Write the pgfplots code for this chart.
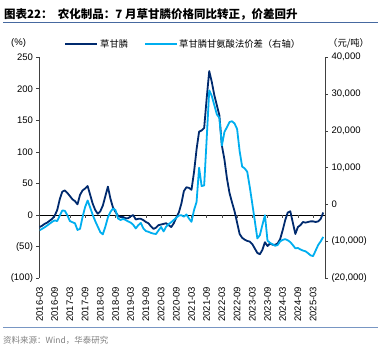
\documentclass[border=0pt]{standalone}
\usepackage{pgfplots}
\pgfplotsset{compat=1.18}
\usepackage{pgfplotstable}
\usepackage{fontspec}
\setmainfont{Liberation Sans}
\newfontfamily\cjk{Noto Sans CJK SC}
\definecolor{darkblue}{RGB}{0,42,110}
\definecolor{lightblue}{RGB}{0,174,239}
\definecolor{rulecol}{RGB}{70,105,160}
\definecolor{rulecol2}{RGB}{120,150,195}

\pgfplotstableread{
x y
0 -19
1 -17
2 -14
3 -12
4 -9
5 -6
6 -1
7 8
8 25
9 37
10 39
11 35
12 30
13 25
14 22
15 17
16 32
17 39
18 42
19 46
20 32
21 18
22 8
23 2
24 6
25 15
26 30
27 45
28 26
29 12
30 5
31 -1
32 -3
33 -3
34 -5
35 -5
36 -2
37 0
38 -7
39 -6
40 -6
41 -8
42 -11
43 -13
44 -18
45 -22
46 -20
47 -16
48 -15
49 -14
50 -13
51 -16
52 -19
53 -13
54 -4
55 4
56 18
57 38
58 44
59 43
60 40
61 68
62 104
63 132
64 134
65 138
66 185
67 228
68 211
69 190
70 174
71 158
72 110
73 88
74 58
75 35
76 20
77 6
78 -12
79 -30
80 -36
81 -39
82 -41
83 -42
84 -46
85 -53
86 -60
87 -62
88 -55
89 -43
90 -49
91 -45
92 -47
93 -47
94 -45
95 -38
96 -24
97 -8
98 4
99 6
100 -12
101 -30
102 -19
103 -16
104 -11
105 -12
106 -11
107 -10
108 -10
109 -11
110 -10
111 -6
112 4
}\darkdata

\pgfplotstableread{
x y
0 -7000
1 -6600
2 -6200
3 -5700
4 -5200
5 -4700
6 -4300
7 -4500
8 -3000
9 -1600
10 -1700
11 -2900
12 -4500
13 -4800
14 -5100
15 -6900
16 -6600
17 -3400
18 -700
19 1100
20 -800
21 -2800
22 -4500
23 -6000
24 -7500
25 -8100
26 -6000
27 -3500
28 -2000
29 -1100
30 -1500
31 -3800
32 -4200
33 -3900
34 -4200
35 -4600
36 -4900
37 -5500
38 -6500
39 -5600
40 -5000
41 -6500
42 -7200
43 -7400
44 -7700
45 -7900
46 -8000
47 -7000
48 -6100
49 -7300
50 -6000
51 -5300
52 -4800
53 -4200
54 -3600
55 -3000
56 -2900
57 -3300
58 -2700
59 -3800
60 -4700
61 -1500
62 700
63 10000
64 5000
65 5200
66 17900
67 31000
68 29500
69 27000
70 24500
71 23500
72 16000
73 19700
74 21000
75 22400
76 22600
77 22000
78 20500
79 14500
80 10300
81 9800
82 8900
83 4800
84 200
85 -4500
86 -9200
87 -8300
88 -5500
89 -2900
90 -9800
91 -10400
92 -10800
93 -11200
94 -11000
95 -10000
96 -9600
97 -9400
98 -9700
99 -10200
100 -11000
101 -11900
102 -11800
103 -12200
104 -12500
105 -12700
106 -13200
107 -13800
108 -14000
109 -12500
110 -11000
111 -10000
112 -8800
}\lightdata

\begin{document}
\begin{tikzpicture}
\path[use as bounding box] (0pt,0pt) rectangle (381pt,347pt);

% title
\node[anchor=west,inner sep=0] at (4pt,333pt) {\cjk\bfseries\fontsize{11.5}{13}\selectfont 图表22：\ \ 农化制品：7 月草甘膦价格同比转正，价差回升};
\draw[rulecol,line width=1pt] (3pt,324.5pt) -- (378pt,324.5pt);

% legend row
\node[anchor=west,inner sep=0] at (11pt,304pt) {\fontsize{9.5}{11}\selectfont (\%)};
\draw[darkblue,line width=2pt] (65pt,303pt) -- (97pt,303pt);
\node[anchor=west,inner sep=0] at (100pt,303.5pt) {\cjk\fontsize{9.3}{11}\selectfont 草甘膦};
\draw[lightblue,line width=2pt] (145pt,303pt) -- (177pt,303pt);
\node[anchor=west,inner sep=0] at (179pt,303.5pt) {\cjk\fontsize{9.3}{11}\selectfont 草甘膦甘氨酸法价差（右轴）};
\node[anchor=west,inner sep=0] at (328pt,304pt) {\cjk\fontsize{9.3}{11}\selectfont （元/吨）};

% bottom rule and source
\draw[rulecol2,line width=0.8pt] (3pt,20pt) -- (378pt,20pt);
\node[anchor=west,inner sep=0,text=gray] at (3pt,7pt) {\cjk\fontsize{8.5}{10}\selectfont 资料来源：Wind，华泰研究};

\begin{axis}[
  at={(39.5pt,68.8pt)}, anchor=south west,
  scale only axis, width=285.5pt, height=221pt,
  xmin=0, xmax=112.7,
  ymin=-100, ymax=250,
  axis y line*=left, axis x line*=bottom,
  x axis line style={draw=none},
  xtick style={draw=none},
  xtick={0,6,...,108},
  xticklabels={2016-03,2016-09,2017-03,2017-09,2018-03,2018-09,2019-03,2019-09,2020-03,2020-09,2021-03,2021-09,2022-03,2022-09,2023-03,2023-09,2024-03,2024-09,2025-03},
  xticklabel style={rotate=90,anchor=east,font=\fontsize{9.5}{11}\selectfont,xshift=-2pt},
  ytick={-100,-50,0,50,100,150,200,250},
  yticklabels={(100),(50),0,50,100,150,200,250},
  yticklabel style={font=\fontsize{9.5}{11}\selectfont},
  tick align=outside, major tick length=3pt,
  y axis line style={line width=0.6pt,draw=black!75},
  ytick style={line width=0.6pt,draw=black!75},
]
\draw[black,line width=0.7pt] (axis cs:0,0) -- (axis cs:112.7,0);
\pgfplotsinvokeforeach{0,6,...,108}{\draw[black!70,line width=0.5pt] (axis cs:#1,0) -- ([yshift=-3pt]axis cs:#1,0);}
\addplot[darkblue,line width=1.8pt,line join=round] table[x=x,y=y]{\darkdata};
\end{axis}

\begin{axis}[
  at={(39.5pt,68.8pt)}, anchor=south west,
  scale only axis, width=285.5pt, height=221pt,
  xmin=0, xmax=112.7,
  ymin=-20000, ymax=40000,
  axis y line*=right, axis x line=none,
  scaled y ticks=false,
  ytick={-20000,-10000,0,10000,20000,30000,40000},
  yticklabels={(20{,}000),(10{,}000),0,10{,}000,20{,}000,30{,}000,40{,}000},
  yticklabel style={font=\fontsize{9.5}{11}\selectfont},
  tick align=outside, major tick length=3pt,
  y axis line style={line width=0.6pt,draw=black!75},
  ytick style={line width=0.6pt,draw=black!75},
]
\addplot[lightblue,line width=1.8pt,line join=round] table[x=x,y=y]{\lightdata};
\end{axis}
\end{tikzpicture}
\end{document}
